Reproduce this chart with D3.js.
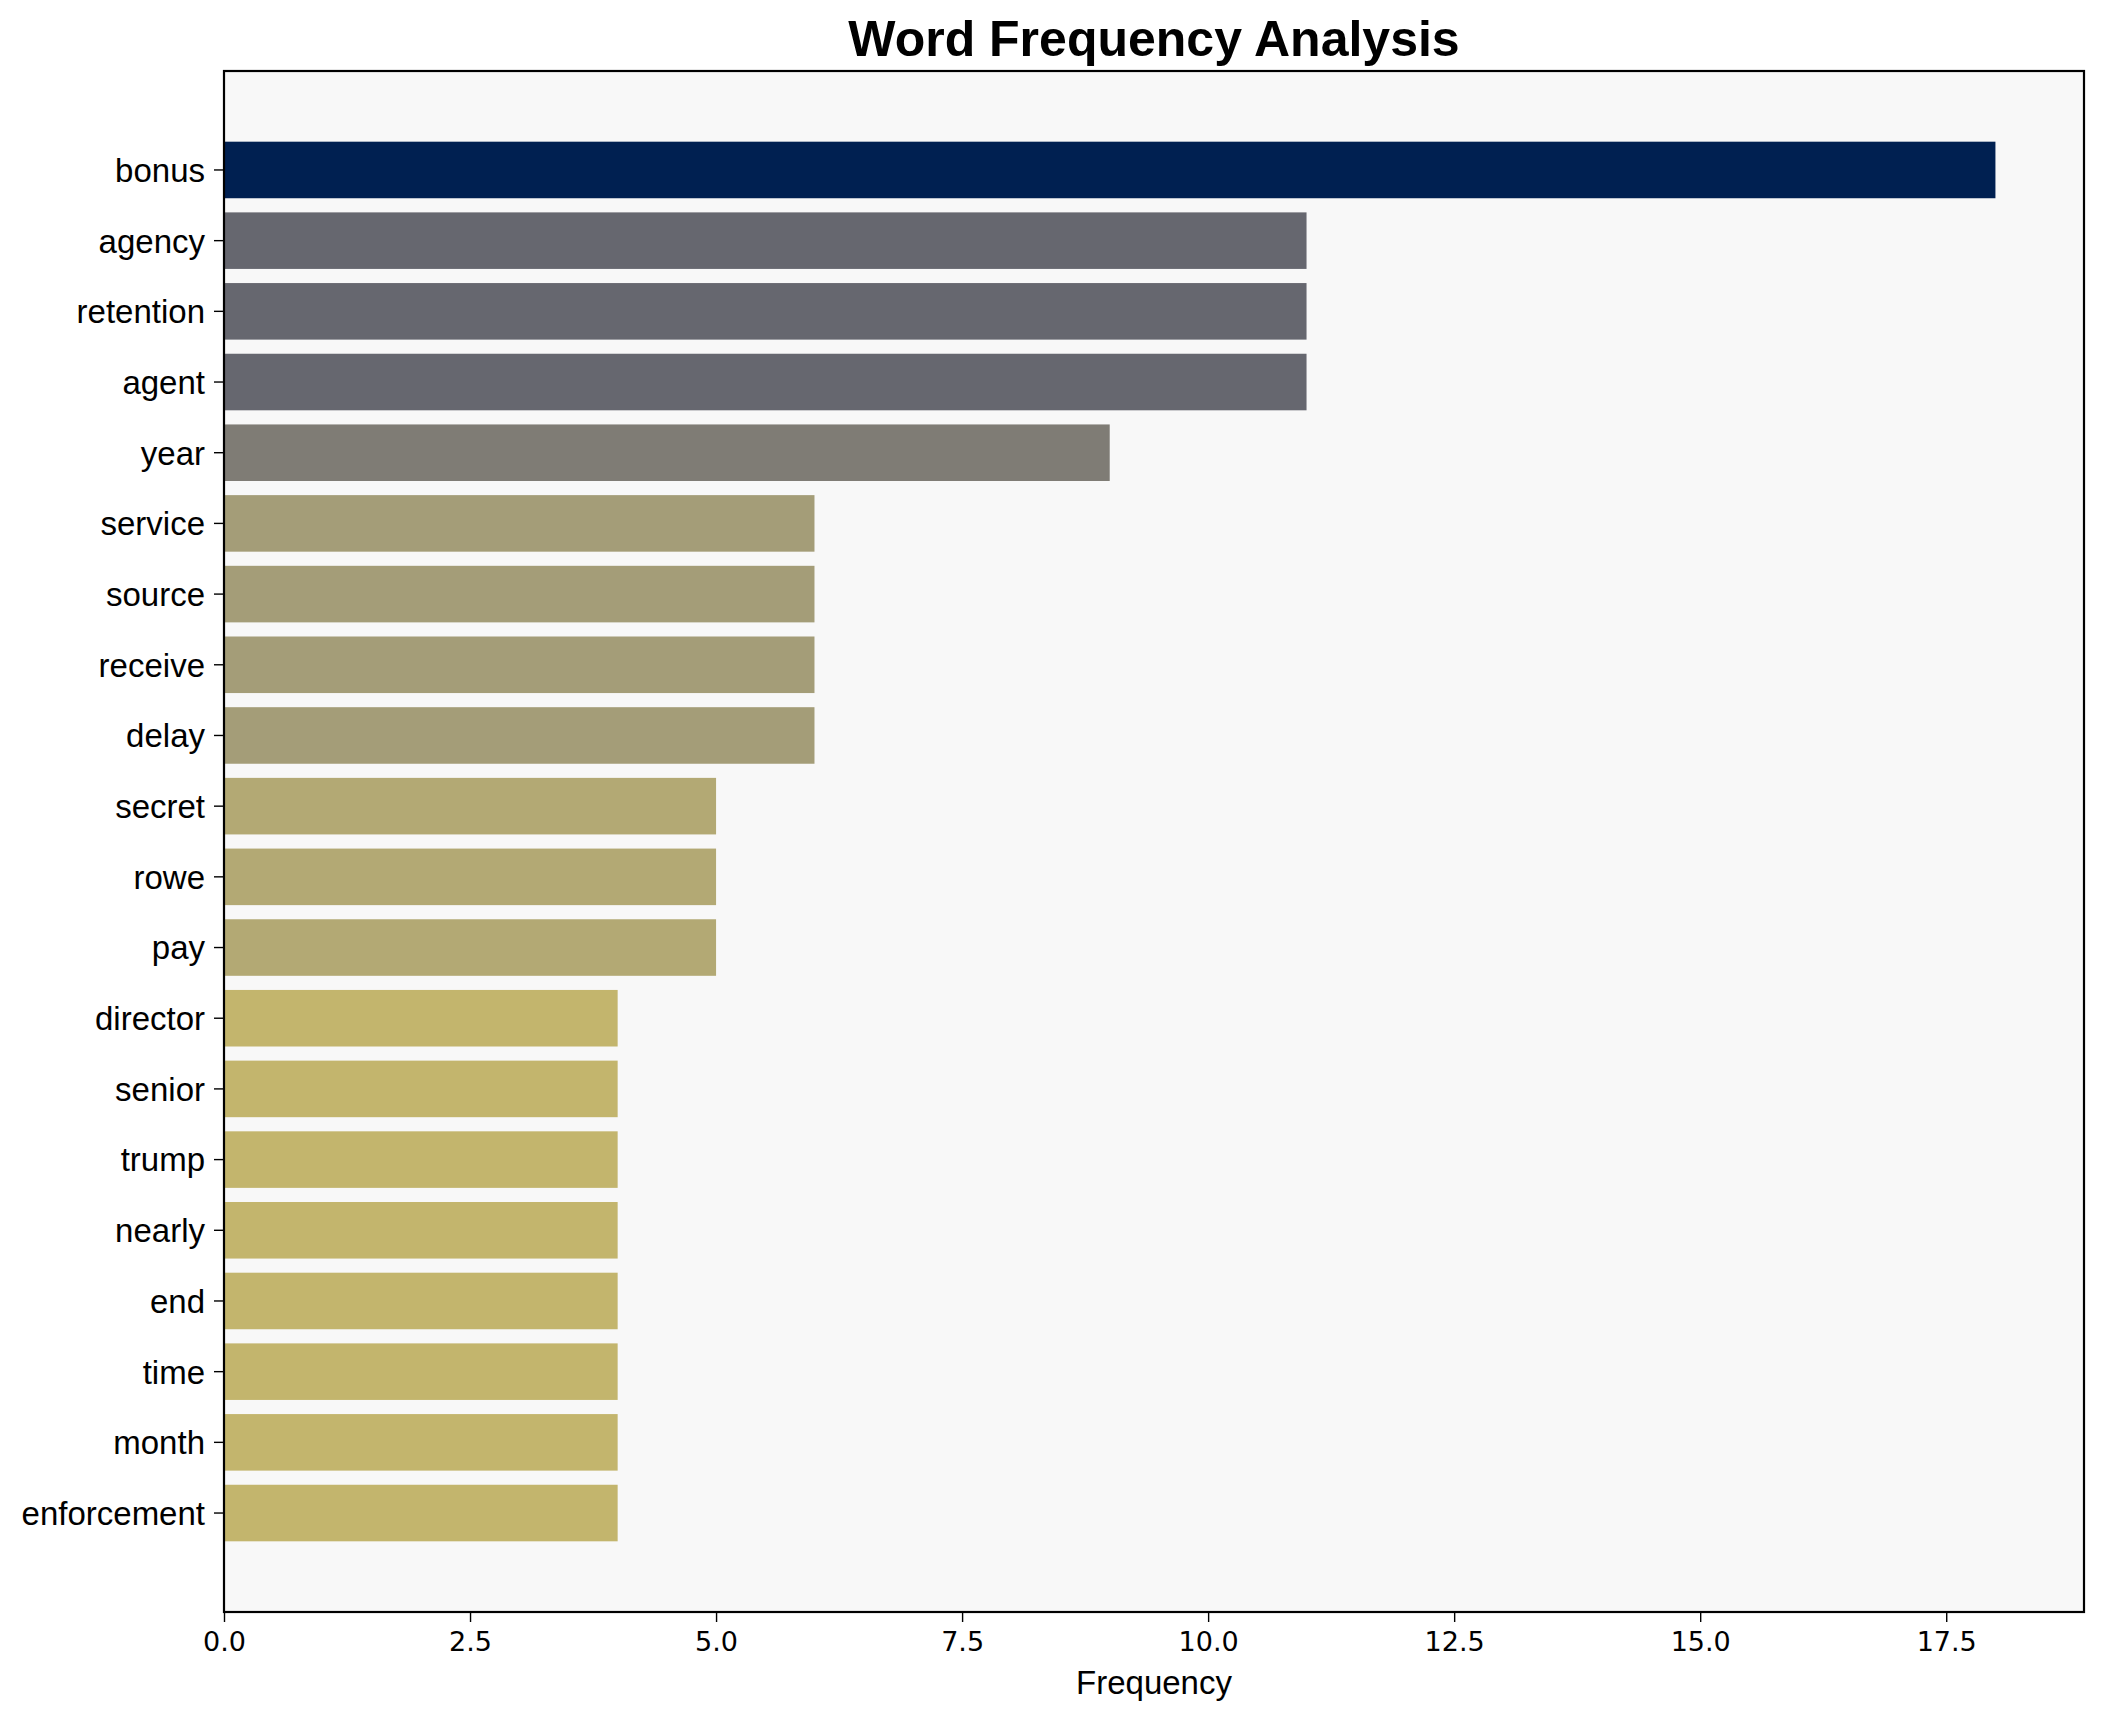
<!DOCTYPE html>
<html>
<head>
<meta charset="utf-8">
<script src="https://cdn.jsdelivr.net/npm/d3@7"></script>
<style>
  body { margin: 0; background: #ffffff; }
  svg { display: block; }
</style>
</head>
<body>
<svg class="chart"></svg>
<script>
// Word counts, top to bottom as they appear in the chart.
var words = ["bonus", "agency", "retention", "agent", "year", "service", "source", "receive", "delay",
    "secret", "rowe", "pay", "director", "senior", "trump", "nearly", "end", "time", "month", "enforcement"];
var counts = [18, 11, 11, 11, 9, 6, 6, 6, 6, 5, 5, 5, 4, 4, 4, 4, 4, 4, 4, 4];
var xTicks = [0, 2.5, 5, 7.5, 10, 12.5, 15, 17.5];

var width = 2104, height = 1722;
var margin = { top: 71, right: 20, bottom: 110, left: 224 };

var data = words.map(function (w, i) { return { word: w, count: counts[i] }; });
var maxCount = d3.max(counts);

var svg = d3.select("svg.chart")
    .attr("width", width)
    .attr("height", height);

var x = d3.scaleLinear()
    .domain([0, maxCount * 1.05])
    .range([margin.left, width - margin.right]);

var y = d3.scaleBand()
    .domain(words)
    .range([margin.top, height - margin.bottom])
    .paddingInner(0.2)
    .paddingOuter(1.0);

// bar colour follows the cividis map, darker for the more frequent words
var color = function (v) { return d3.interpolateCividis(1 - v / maxCount); };

svg.append("rect") // plot background
    .attr("x", margin.left)
    .attr("y", margin.top)
    .attr("width", width - margin.right - margin.left)
    .attr("height", height - margin.bottom - margin.top)
    .attr("fill", "#f8f8f8");

svg.selectAll("rect.bar")
    .data(data)
    .enter()
    .append("rect")
    .attr("class", "bar")
    .attr("x", x(0))
    .attr("y", function (d) { return y(d.word); })
    .attr("width", function (d) { return x(d.count) - x(0); })
    .attr("height", y.bandwidth())
    .attr("fill", function (d) { return color(d.count); });

var xAxis = svg.append("g")
    .attr("transform", "translate(0," + (height - margin.bottom) + ")")
    .call(d3.axisBottom(x).tickValues(xTicks).tickFormat(d3.format(".1f")).tickSize(10).tickPadding(10));
xAxis.select(".domain").remove();
xAxis.selectAll(".tick line").attr("stroke", "#000").attr("stroke-width", 1.4);
xAxis.selectAll("text")
    .attr("fill", "#000")
    .style("font-family", "'DejaVu Sans', sans-serif")
    .style("font-size", "27px");

var yAxis = svg.append("g")
    .attr("transform", "translate(" + margin.left + ",0)")
    .call(d3.axisLeft(y).tickSize(10).tickPadding(9));
yAxis.select(".domain").remove();
yAxis.selectAll(".tick line").attr("stroke", "#000").attr("stroke-width", 1.4);
yAxis.selectAll("text")
    .attr("fill", "#000")
    .attr("dy", "0.36em")
    .style("font-family", "'Liberation Sans', Arial, sans-serif")
    .style("font-size", "33px");

svg.append("rect") // frame round the plot
    .attr("x", margin.left)
    .attr("y", margin.top)
    .attr("width", width - margin.right - margin.left)
    .attr("height", height - margin.bottom - margin.top)
    .attr("fill", "none")
    .attr("stroke", "#000")
    .attr("stroke-width", 2.2);

svg.append("text")
    .attr("x", (margin.left + width - margin.right) / 2)
    .attr("y", 56)
    .attr("text-anchor", "middle")
    .style("font-family", "'Liberation Sans', Arial, sans-serif")
    .style("font-size", "50px")
    .style("font-weight", "bold")
    .text("Word Frequency Analysis");

svg.append("text")
    .attr("x", (margin.left + width - margin.right) / 2)
    .attr("y", 1694)
    .attr("text-anchor", "middle")
    .style("font-family", "'Liberation Sans', Arial, sans-serif")
    .style("font-size", "33px")
    .text("Frequency");
</script>
</body>
</html>
